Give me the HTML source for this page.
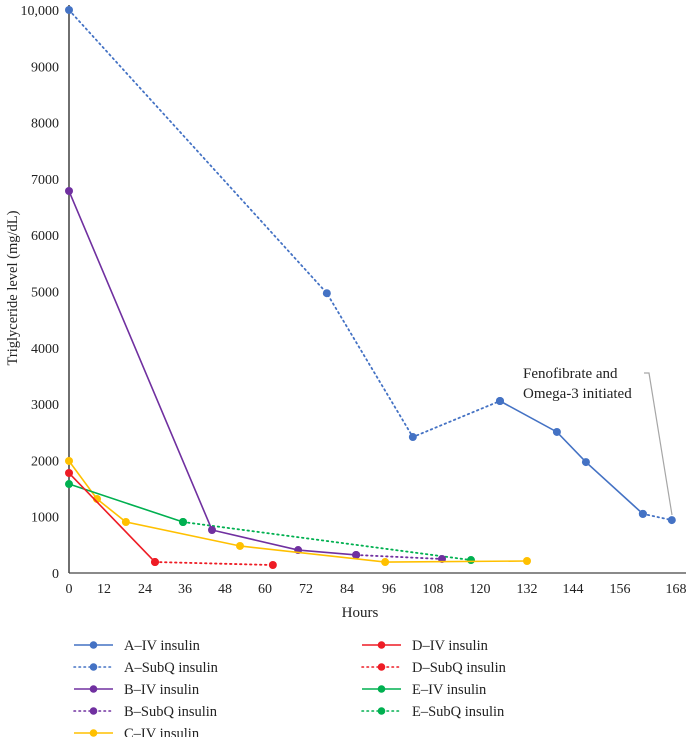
<!DOCTYPE html>
<html><head><meta charset="utf-8"><style>
body{margin:0;background:#fff;}
svg text{font-family:"Liberation Serif",serif;fill:#222;}
</style></head><body>
<svg id="chart" width="686" height="737" viewBox="0 0 686 737" xmlns="http://www.w3.org/2000/svg">
<g id="axes"></g><g id="series"></g><g id="legend"></g>
<text x="523" y="378" font-size="15">Fenofibrate and</text>
<text x="523" y="398" font-size="15">Omega-3 initiated</text>
<polyline points="644,373 649,373 672,515" fill="none" stroke="#a6a6a6" stroke-width="1.2"/>
</svg>
<script>
const xTicks=[0,12,24,36,48,60,72,84,96,108,120,132,144,156,168];
const yTicks=[0,1000,2000,3000,4000,5000,6000,7000,8000,9000,10000];
const yTickLabels=["0","1000","2000","3000","4000","5000","6000","7000","8000","9000","10,000"];
const aIvX=[125.1,139.8,147.3,160.9];
const aIvY=[3055,2505,1970,1050];
const aSubqX1=[0,78.1,102.5,125.1];
const aSubqY1=[10000,4970,2415,3055];
const aSubqX2=[160.9,167.1];
const aSubqY2=[1050,940];
const bIvX=[0,44.1,69.7,86.6];
const bIvY=[6785,764,408,320];
const bSubqX=[86.6,110.3];
const bSubqY=[320,249];
const cIvX=[0,9.6,18.4,52.5,94.9,132];
const cIvY=[1990,1315,906,480,195,213];
const dIvX=[0,27];
const dIvY=[1776,195];
const dSubqX=[27,62.3];
const dSubqY=[195,142];
const eIvX=[0,35.4];
const eIvY=[1580,906];
const eSubqX=[35.4,117.7];
const eSubqY=[906,230];

const NS="http://www.w3.org/2000/svg";
const tickPx=[69,104,145,185,225,265,306,347,389,433,480,527,573,620,676];
function xs(h){for(let i=0;i<xTicks.length-1;i++){if(h<=xTicks[i+1]||i===xTicks.length-2){const t=(h-xTicks[i])/(xTicks[i+1]-xTicks[i]);return tickPx[i]+t*(tickPx[i+1]-tickPx[i]);}}}
function ys(v){return 573-v*0.05630;}
function mk(tag,attrs,parent){const e=document.createElementNS(NS,tag);for(const k in attrs)e.setAttribute(k,attrs[k]);parent.appendChild(e);return e;}
const axes=document.getElementById('axes');
let e=mk('line',{x1:69,y1:5,x2:69,y2:573,stroke:'#222','stroke-width':1.3},axes);


e=mk('line',{x1:69,y1:573,x2:686,y2:573,stroke:'#444','stroke-width':1.3},axes);


xTicks.forEach((t,i)=>{const el=mk('text',{x:xs(t),y:593,'font-size':14,'text-anchor':'middle'},axes);el.textContent=String(t);

});
yTicks.forEach((t,i)=>{const el=mk('text',{x:59,y:ys(t)+5,'font-size':14,'text-anchor':'end'},axes);el.textContent=yTickLabels[i];

});
e=mk('text',{x:360,y:617,'font-size':15,'text-anchor':'middle'},axes);e.textContent='Hours';


e=mk('text',{x:0,y:0,'font-size':14.5,'text-anchor':'middle',transform:'translate(17,288) rotate(-90)'},axes);e.textContent='Triglyceride level (mg/dL)';



const S=document.getElementById('series');
function series(name,X,Y,color,dotted,markers){
 const g=mk('g',{},S);
 
 
 const pts=X.map((x,i)=>xs(x)+','+ys(Y[i])).join(' ');
 const a={points:pts,fill:'none',stroke:color,'stroke-width':1.6};
 if(dotted){a['stroke-dasharray']='1.5 3.5';a['stroke-linecap']='round';a['stroke-width']=1.8;}
 mk('polyline',a,g);
 if(markers)X.forEach((x,i)=>{const c=mk('circle',{cx:xs(x),cy:ys(Y[i]),r:4,fill:color},g);
 
 });
}
const BL='#4472c4',PU='#7030a0',YE='#ffc000',RE='#ee1c25',GR='#00b050';
series('a-subq-series',aSubqX1,aSubqY1,BL,true,true);
series('a-subq-series-2',aSubqX2,aSubqY2,BL,true,true);
series('e-subq-series',eSubqX,eSubqY,GR,true,true);
series('b-subq-series',bSubqX,bSubqY,PU,true,true);
series('d-subq-series',dSubqX,dSubqY,RE,true,true);
series('a-iv-series',aIvX,aIvY,BL,false,true);
series('b-iv-series',bIvX,bIvY,PU,false,true);
series('c-iv-series',cIvX,cIvY,YE,false,true);
series('e-iv-series',eIvX,eIvY,GR,false,true);
series('d-iv-series',dIvX,dIvY,RE,false,true);

const legendNames=['A–IV insulin','A–SubQ insulin','B–IV insulin','B–SubQ insulin','C–IV insulin','D–IV insulin','D–SubQ insulin','E–IV insulin','E–SubQ insulin'];
const legendColors=[BL,BL,PU,PU,YE,RE,RE,GR,GR];
const legendDotted=[false,true,false,true,false,false,true,false,true];
const L=document.getElementById('legend');
legendNames.forEach((n,i)=>{
 const col=i<5?0:1,row=i<5?i:i-5;
 const x0=col?362:74,y=645+row*22;
 const g=mk('g',{},L);
 
 
 const a={x1:x0,y1:y,x2:x0+39,y2:y,stroke:legendColors[i],'stroke-width':1.6};
 if(legendDotted[i]){a['stroke-dasharray']='1.5 3.5';a['stroke-linecap']='round';}
 mk('line',a,g);
 mk('circle',{cx:x0+19.5,cy:y,r:3.8,fill:legendColors[i]},g);
 const t=mk('text',{x:x0+50,y:y+5,'font-size':14.5},g);t.textContent=n;
});
</script>
</body></html>
